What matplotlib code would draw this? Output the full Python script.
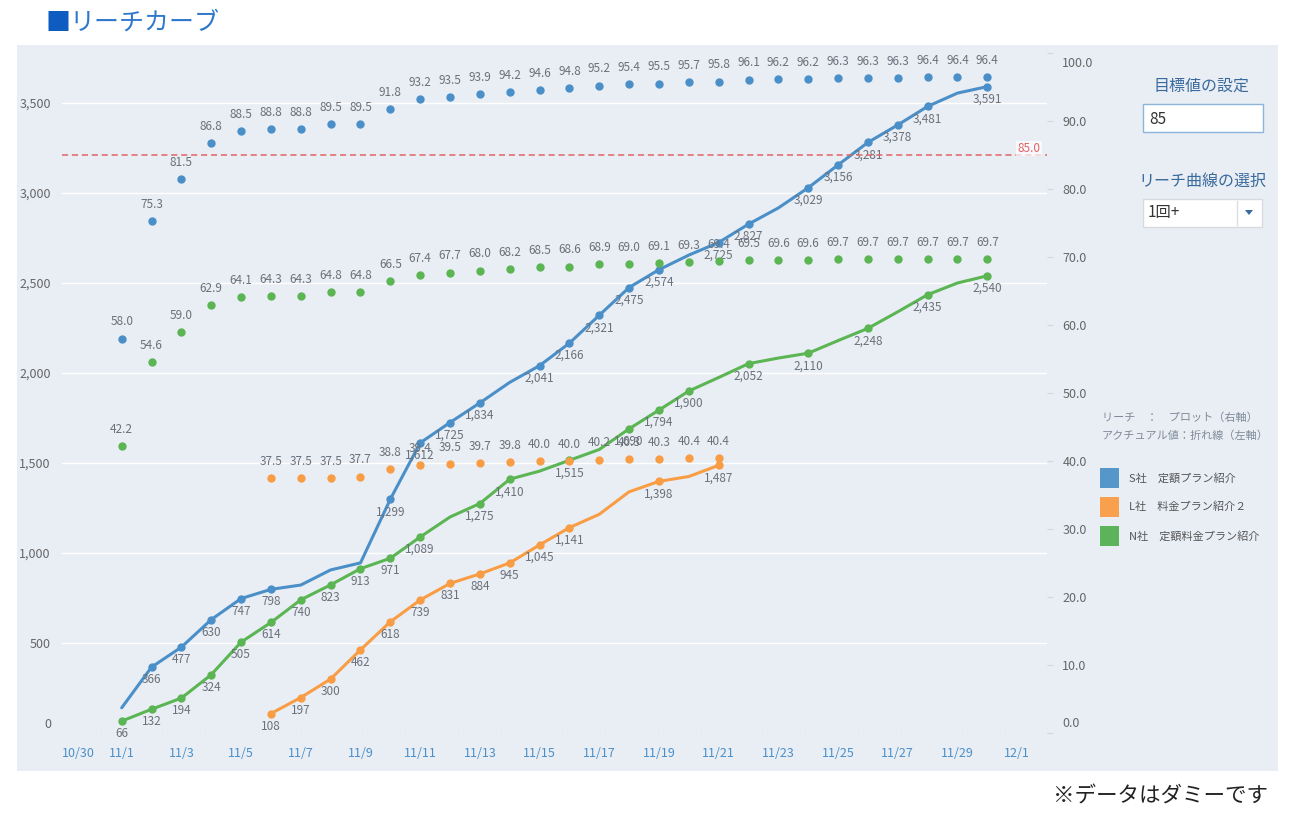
import matplotlib
matplotlib.use('Agg')
import matplotlib.pyplot as plt
import matplotlib.transforms as mtransforms
import pandas as pd
import numpy as np
from matplotlib.patches import Rectangle, Polygon

plt.rcParams['font.family'] = ['Noto Sans CJK JP', 'DejaVu Sans']

#  Data (11/1 - 11/30)
dates = pd.date_range('2023-11-01', periods=30, freq='D')

#  Actual values (left axis, lines)
s_actual = [140, 366, 477, 630, 747, 798, 822, 906, 945, 1299, 1612, 1725, 1834, 1948, 2041,
            2166, 2321, 2475, 2574, 2655, 2725, 2827, 2917, 3029, 3156, 3281, 3378, 3481, 3555, 3591]
s_shown = [0, 1, 1, 1, 1, 1, 0, 0, 0, 1, 1, 1, 1, 0, 1,
           1, 1, 1, 1, 0, 1, 1, 0, 1, 1, 1, 1, 1, 0, 1]
l_actual = [np.nan] * 5 + [108, 197, 300, 462, 618, 739, 831, 884, 945, 1045,
                           1141, 1215, 1340, 1398, 1425, 1487] + [np.nan] * 9
l_shown = [0] * 5 + [1, 1, 1, 1, 1, 1, 1, 1, 1, 1,
                     1, 0, 0, 1, 0, 1] + [0] * 9
n_actual = [66, 132, 194, 324, 505, 614, 740, 823, 913, 971, 1089, 1200, 1275, 1410, 1455,
            1515, 1575, 1690, 1794, 1900, 1975, 2052, 2083, 2110, 2180, 2248, 2340, 2435, 2500, 2540]
n_shown = [1, 1, 1, 1, 1, 1, 1, 1, 1, 1, 1, 0, 1, 1, 0,
           1, 0, 1, 1, 1, 0, 1, 0, 1, 0, 1, 0, 1, 0, 1]

#  Reach values (right axis, dots)
s_reach = [58.0, 75.3, 81.5, 86.8, 88.5, 88.8, 88.8, 89.5, 89.5, 91.8, 93.2, 93.5, 93.9, 94.2, 94.6,
           94.8, 95.2, 95.4, 95.5, 95.7, 95.8, 96.1, 96.2, 96.2, 96.3, 96.3, 96.3, 96.4, 96.4, 96.4]
l_reach = [np.nan] * 5 + [37.5, 37.5, 37.5, 37.7, 38.8, 39.4, 39.5, 39.7, 39.8, 40.0,
                          40.0, 40.2, 40.3, 40.3, 40.4, 40.4] + [np.nan] * 9
n_reach = [42.2, 54.6, 59.0, 62.9, 64.1, 64.3, 64.3, 64.8, 64.8, 66.5, 67.4, 67.7, 68.0, 68.2, 68.5,
           68.6, 68.9, 69.0, 69.1, 69.3, 69.4, 69.5, 69.6, 69.6, 69.7, 69.7, 69.7, 69.7, 69.7, 69.7]

target = 85.0
series_names = ['S社　定額プラン紹介', 'L社　料金プラン紹介２', 'N社　定額料金プラン紹介']
colors = ['#4A8FC8', '#F99D45', '#5BB553']
legend_colors = ['#5597C9', '#F9A04E', '#5DB35A']

W, H = 1295, 817
label_color = '#6B717B'
panel_color = '#E9EEF5'


#  pixel (from top-left) -> figure fraction
def px(x, y):
    return x / W, 1 - y / H


#  move a tick label by some pixels (Tableau keeps edge labels inside)
def nudge(label, dy_px):
    label.set_transform(label.get_transform() +
                        mtransforms.ScaledTranslation(0, dy_px / 100, fig.dpi_scale_trans))


fig = plt.figure(figsize=(W / 100, H / 100), dpi=100)

#  Background panel
fig.add_artist(Rectangle(px(17, 771), (1278 - 17) / W, (771 - 45) / H,
                         transform=fig.transFigure, facecolor=panel_color, edgecolor='none', zorder=0))

ax = fig.add_axes([62 / W, 1 - 733 / H, (1047 - 62) / W, (733 - 50) / H])
ax.patch.set_visible(False)
ax2 = ax.twinx()
ax2.patch.set_visible(False)

#  Lines (left axis)
for values, shown, color in zip([s_actual, l_actual, n_actual], [s_shown, l_shown, n_shown], colors):
    y = np.array(values, dtype=float)
    m = np.array(shown, dtype=bool)
    ax.plot(dates, y, color=color, lw=2.2, solid_capstyle='round', zorder=3)
    ax.plot(dates[m], y[m], 'o', color=color, ms=5, zorder=4)
    for d, v in zip(dates[m], y[m]):
        ax.annotate(f'{int(v):,}', (d, v), xytext=(0, -9), textcoords='offset points',
                    ha='center', va='center', fontsize=8.5, color=label_color, zorder=5)

#  Reach dots (right axis)
for values, color in zip([s_reach, l_reach, n_reach], colors):
    y = np.array(values, dtype=float)
    ok = ~np.isnan(y)
    ax2.plot(dates[ok], y[ok], 'o', color=color, ms=5, zorder=4)
    for d, v in zip(dates[ok], y[ok]):
        ax2.annotate(f'{v:.1f}', (d, v), xytext=(0, 12), textcoords='offset points',
                     ha='center', va='center', fontsize=8.5, color=label_color, zorder=5)

#  Target line
ax2.axhline(target, color='#E06363', ls=(0, (4, 2.5)), lw=1.1, zorder=2)
ax2.text(0.993, target, f'{target:.1f}', transform=ax2.get_yaxis_transform(), ha='right', va='bottom',
         fontsize=8.5, color='#E06363', style='italic',
         bbox=dict(facecolor='white', edgecolor='none', alpha=0.7, pad=1))

#  Axes
ax.set_xlim(pd.Timestamp('2023-10-30'), pd.Timestamp('2023-12-02'))
ax.set_ylim(0, 683 / 0.18)
ax2.set_ylim(0, 683 / 6.8)
xticks = pd.date_range('2023-10-30', '2023-12-01', freq='2D')
ax.set_xticks(xticks)
ax.set_xticklabels([f'{d.month}/{d.day}' for d in xticks], color='#4A8FC8', fontsize=9)
ax.get_xticklabels()[0].set_ha('left')
ax.tick_params(axis='x', length=0, pad=10)
ax.set_yticks(range(0, 3501, 500))
ax.set_yticklabels([f'{v:,}' for v in range(0, 3501, 500)], color='#666666', fontsize=9)
ax.tick_params(axis='y', length=0, pad=8)
ax2.set_yticks(range(0, 101, 10))
ax2.set_yticklabels([f'{v:.1f}' for v in range(0, 101, 10)], color='#666666', fontsize=9)
ax2.tick_params(axis='y', length=4, width=1, color='#D5DAE1', pad=7)
nudge(ax.yaxis.get_major_ticks()[0].label1, 10)
nudge(ax2.yaxis.get_major_ticks()[0].label2, 11)
nudge(ax2.yaxis.get_major_ticks()[-1].label2, -9)
ax.yaxis.grid(True, color='white', lw=1)
ax.set_axisbelow(True)
ax.axhline(0, color='#B5BAC2', ls=(0, (1, 2)), lw=1, zorder=1)
for a in (ax, ax2):
    for sp in a.spines.values():
        sp.set_visible(False)

#  Title and note
fig.text(*px(45, 23), '■', color='#0F5CC0', fontsize=18, va='center', ha='left')
fig.text(*px(69, 23), 'リーチカーブ', color='#2E78CC', fontsize=18, va='center', ha='left')
fig.text(*px(1268, 797), '※データはダミーです', color='#222222', fontsize=15.5, va='center', ha='right')

#  Right side controls
fig.text(*px(1202, 86), '目標値の設定', color='#3A6A9C', fontsize=11.5, ha='center', va='center')
fig.add_artist(Rectangle(px(1143, 132), 120 / W, 28 / H, transform=fig.transFigure,
                         facecolor='white', edgecolor='#8DB5D9', lw=1))
fig.text(*px(1149, 119), '85', color='#333333', fontsize=11, ha='left', va='center')

fig.text(*px(1202, 181), 'リーチ曲線の選択', color='#3A6A9C', fontsize=11.5, ha='center', va='center')
fig.add_artist(Rectangle(px(1144, 228), 119 / W, 28 / H, transform=fig.transFigure,
                         facecolor='#D3D7DD', edgecolor='none'))
fig.add_artist(Rectangle(px(1143, 227), 119 / W, 28 / H, transform=fig.transFigure,
                         facecolor='white', edgecolor='#D7DBE0', lw=1))
fig.add_artist(plt.Line2D([1237 / W, 1237 / W], [1 - 201 / H, 1 - 225 / H], transform=fig.transFigure,
                          color='#DADDE2', lw=1))
fig.add_artist(Polygon([px(1245, 210), px(1253, 210), px(1249, 215)], closed=True,
                       transform=fig.transFigure, facecolor='#3A6A9C', edgecolor='none'))
fig.text(*px(1148, 213), '1回+', color='#333333', fontsize=11, ha='left', va='center')

#  Legend
fig.text(*px(1102, 418), 'リーチ　：　プロット（右軸）', color='#7F8A99', fontsize=8, ha='left', va='center')
fig.text(*px(1102, 436), 'アクチュアル値：折れ線（左軸）', color='#7F8A99', fontsize=8, ha='left', va='center')
for i, (name, c) in enumerate(zip(series_names, legend_colors)):
    yc = 478 + i * 29
    fig.add_artist(Rectangle(px(1100, yc + 10), 19 / W, 20 / H, transform=fig.transFigure,
                             facecolor=c, edgecolor='none'))
    fig.text(*px(1129, yc), name, color='#555555', fontsize=8, ha='left', va='center')

fig.savefig('out.png', dpi=100)
